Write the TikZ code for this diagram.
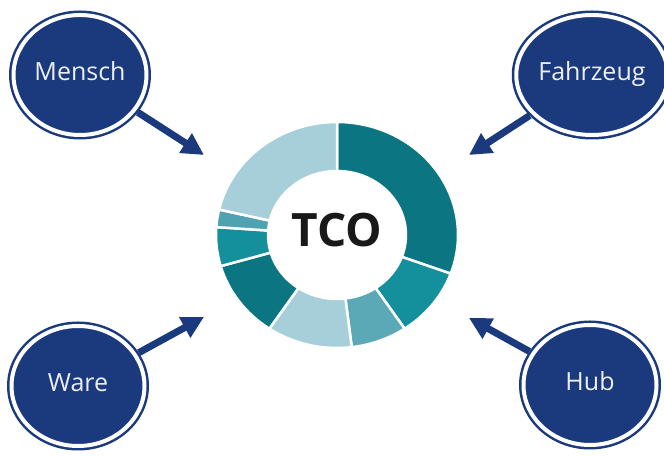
\documentclass[tikz,border=0pt]{standalone}
\usepackage{fontspec}
\setmainfont{Open Sans}
\usetikzlibrary{arrows.meta,shapes.geometric}
\definecolor{navy}{HTML}{1B3A7E}
\definecolor{tealA}{HTML}{0B7682}
\definecolor{tealB}{HTML}{13909C}
\definecolor{tealC}{HTML}{5BA9B6}
\definecolor{tealD}{HTML}{4FA3B1}
\definecolor{paleblue}{HTML}{A6CFDA}

\begin{document}
\begin{tikzpicture}[x=1pt,y=1pt,
 topic/.style={ellipse,minimum width=133pt,minimum height=120pt,inner sep=0pt,outer sep=4.5pt,
  fill=navy,draw=navy,line width=2.5pt,double=white,double distance=4pt,
  text=white!92!navy,font=\fontsize{25}{25}\selectfont,text height=1.1em,text depth=0pt},
 feed/.style={navy,line width=7pt,-{Triangle[length=22pt,width=22pt]}},
 seg/.style={draw=white,line width=2.5pt}]
\useasboundingbox (0,0) rectangle (664,457);
% Cost ring: segments run clockwise from the top.
\begin{scope}[shift={(337,222)}]
\foreach \a/\b/\col in {90/-20/tealA,-20/-56/tealB,-56/-83/tealC,-83/-124/paleblue,
 -124/-164/tealA,-164/-184/tealB,-184/-193/tealD,-193/-270/paleblue}
 \filldraw[seg,fill=\col] (\a:121 and 113) arc[start angle=\a,end angle=\b,x radius=121,y radius=113]
  -- (\b:69 and 64) arc[start angle=\b,end angle=\a,x radius=69,y radius=64] -- cycle;
\node[font=\bfseries\fontsize{46}{46}\selectfont,text=black!90] (tco) at (0,5) {TCO};
\end{scope}
% The four cost drivers in the corners.
\node[topic] (mensch) at (80,382) {Mensch};
\node[topic] (fahrzeug) at (592,382) {Fahrzeug};
\node[topic] (ware) at (78,71) {Ware};
\node[topic] (hub) at (590,72) {Hub};
\coordinate (mTip) at (204,302);
\coordinate (fTip) at (469,302);
\coordinate (wTip) at (204,140);
\coordinate (hTip) at (469,139);
\draw[feed] (mensch) -- (mTip);
\draw[feed] (fahrzeug) -- (fTip);
\draw[feed] (ware) -- (wTip);
\draw[feed] (hub) -- (hTip);
\end{tikzpicture}
\end{document}
